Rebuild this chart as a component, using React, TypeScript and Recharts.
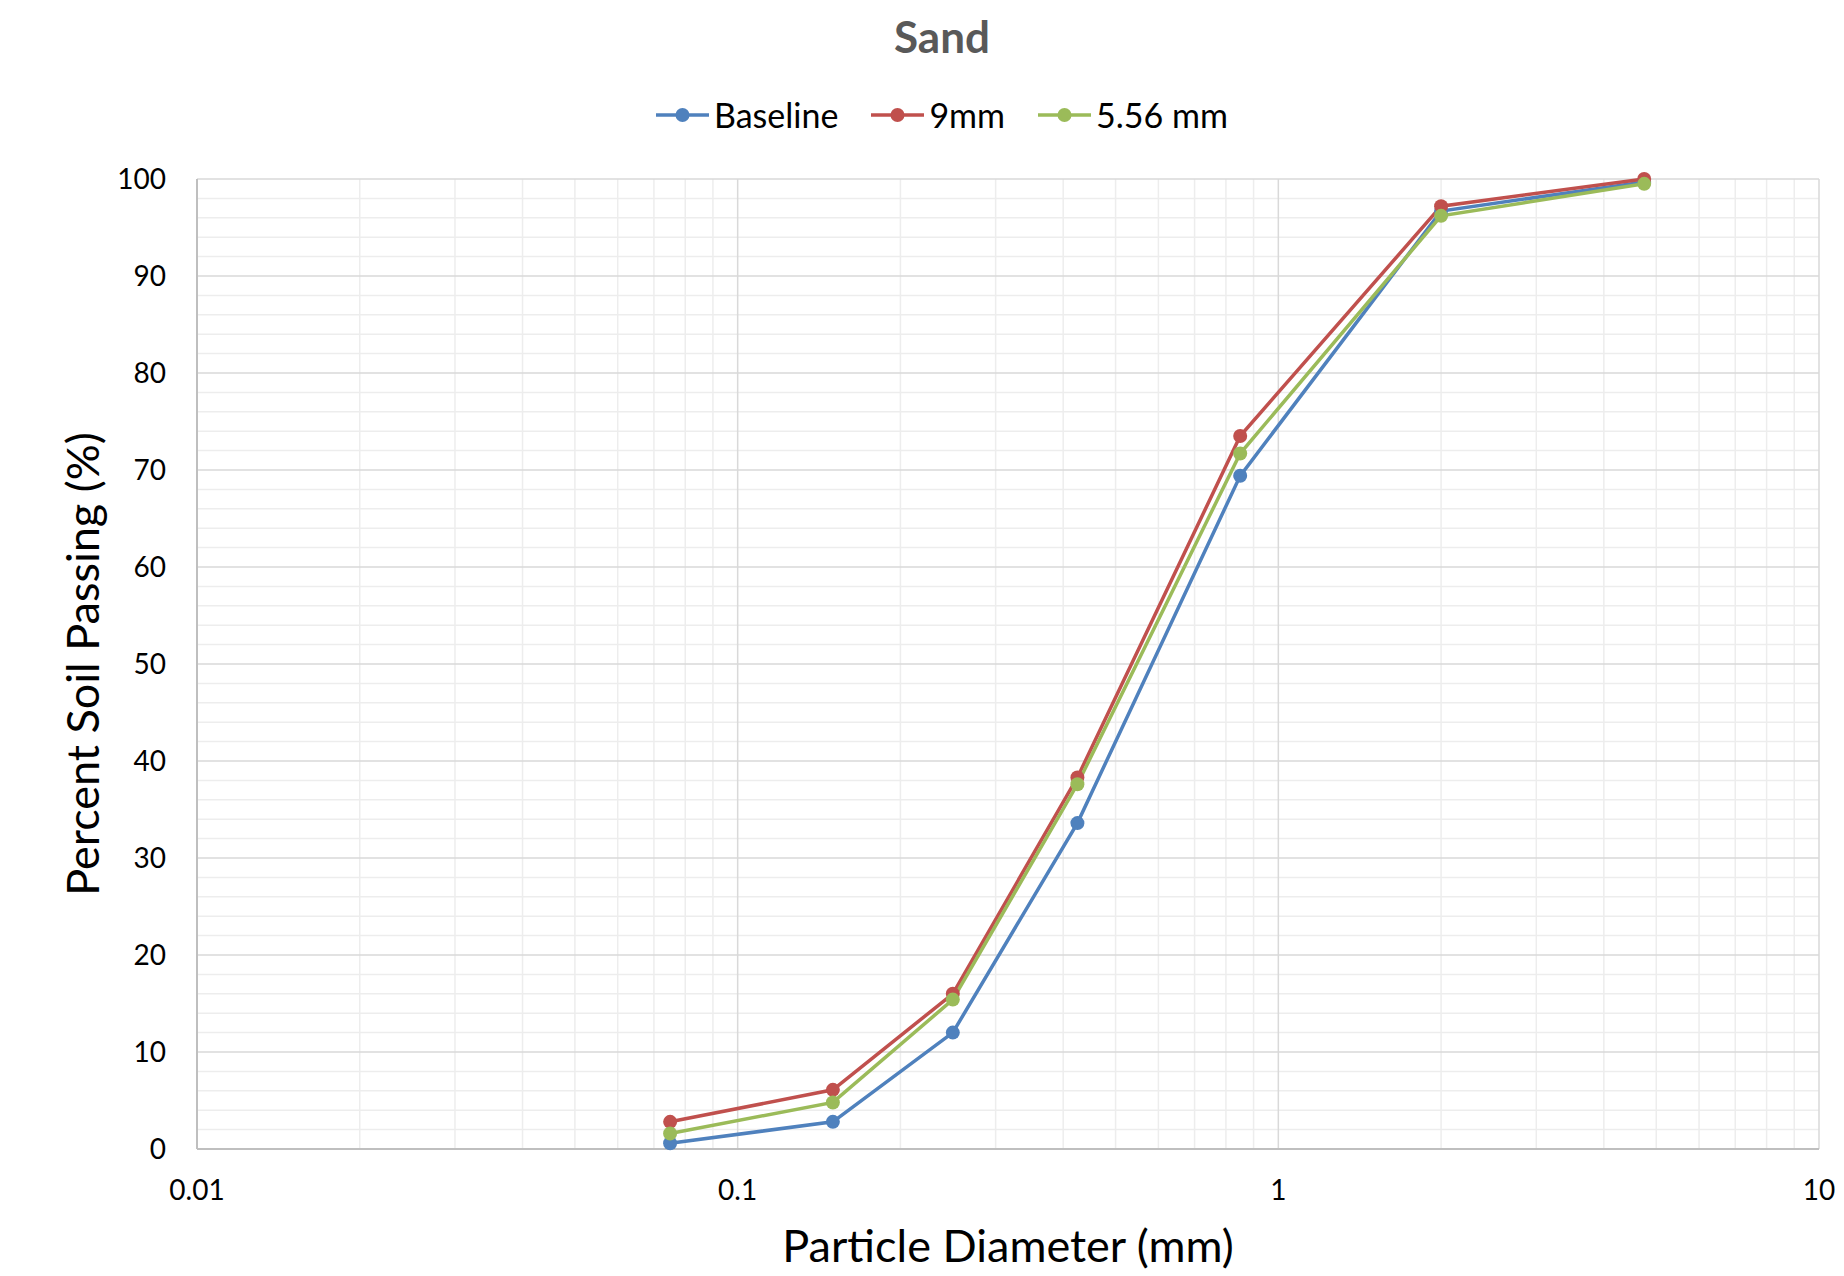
import React from 'react';
import { LineChart, Line, XAxis, YAxis, CartesianGrid, Legend } from 'recharts';

const sieveSizes = [0.075, 0.15, 0.25, 0.425, 0.85, 2.0, 4.75];
const baselineValues = [0.6, 2.8, 12.0, 33.6, 69.4, 96.7, 99.7];
const nineMmValues = [2.8, 6.1, 16.0, 38.3, 73.5, 97.2, 100.0];
const fiveMmValues = [1.6, 4.8, 15.4, 37.6, 71.7, 96.2, 99.5];

const xTicks = [0.01, 0.1, 1, 10];
const yTicks = [0, 10, 20, 30, 40, 50, 60, 70, 80, 90, 100];
const xMinorGrid = [0.02, 0.03, 0.04, 0.05, 0.06, 0.07, 0.08, 0.09, 0.2, 0.3, 0.4, 0.5, 0.6, 0.7, 0.8, 0.9, 2, 3, 4, 5, 6, 7, 8, 9];
const xMajorGrid = [0.1, 1, 10];
const yMinorGrid = [2, 4, 6, 8, 12, 14, 16, 18, 22, 24, 26, 28, 32, 34, 36, 38, 42, 44, 46, 48, 52, 54, 56, 58, 62, 64, 66, 68, 72, 74, 76, 78, 82, 84, 86, 88, 92, 94, 96, 98];
const yMajorGrid = [10, 20, 30, 40, 50, 60, 70, 80, 90, 100];

const seriesNames = ['Baseline', '9mm', '5.56 mm'];
const seriesKeys = ['baseline', 'nine', 'five'];
const seriesColors = ['#4f81bd', '#c0504d', '#9bbb59'];

const data = sieveSizes.map((d, i) => ({
  d,
  baseline: baselineValues[i],
  nine: nineMmValues[i],
  five: fiveMmValues[i],
}));

const FONT = 'Lato, "Open Sans", sans-serif';

const Header = () => (
  <div style={{ position: 'relative', width: 1844, height: 179, fontFamily: FONT }}>
    <div
      style={{
        position: 'absolute',
        top: 14,
        left: 0,
        width: 1884,
        textAlign: 'center',
        fontSize: 44,
        lineHeight: '44px',
        fontWeight: 700,
        color: '#595959',
      }}
    >
      Sand
    </div>
    <div
      style={{
        position: 'absolute',
        top: 97,
        left: 656,
        height: 35,
        display: 'flex',
        alignItems: 'center',
        fontSize: 34,
        lineHeight: '35px',
        color: '#000',
      }}
    >
      {seriesNames.map((name, i) => (
        <div key={name} style={{ display: 'flex', alignItems: 'center', marginRight: 33 }}>
          <svg width={53} height={20}>
            <line x1={0} y1={10} x2={53} y2={10} stroke={seriesColors[i]} strokeWidth={3.5} />
            <circle cx={26.5} cy={10} r={7} fill={seriesColors[i]} />
          </svg>
          <span style={{ marginLeft: 5 }}>{name}</span>
        </div>
      ))}
    </div>
  </div>
);

const YTitle = (props: any) => {
  const vb = props.viewBox || { x: 0, y: 179, width: 197, height: 970 };
  const x = vb.x + 99;
  const y = vb.y + vb.height / 2;
  return (
    <text
      x={x}
      y={y}
      transform={`rotate(-90 ${x} ${y})`}
      textAnchor="middle"
      fontFamily={FONT}
      fontSize={45}
      fill="#000"
    >
      Percent Soil Passing (%)
    </text>
  );
};

const XTitle = (props: any) => {
  const vb = props.viewBox || { x: 197, y: 1149, width: 1622, height: 127 };
  const x = vb.x + vb.width / 2;
  const y = vb.y + 113;
  return (
    <text x={x} y={y} textAnchor="middle" fontFamily={FONT} fontSize={45} fill="#000">
      Particle Diameter (mm)
    </text>
  );
};

export default function App() {
  return (
    <div style={{ position: 'absolute', left: 0, top: 0, width: 1844, height: 1276, background: '#fff' }}>
      <LineChart
        width={1844}
        height={1276}
        data={data}
        margin={{ top: 0, right: 25, left: 0, bottom: 0 }}
      >
        <Legend
          verticalAlign="top"
          align="left"
          wrapperStyle={{ left: 0, top: 0, width: 1844 }}
          content={() => <Header />}
        />
        <CartesianGrid
          stroke="#ededed"
          strokeWidth={1.5}
          horizontalValues={yMinorGrid}
          verticalValues={xMinorGrid}
        />
        <CartesianGrid
          stroke="#d9d9d9"
          strokeWidth={1.5}
          horizontalValues={yMajorGrid}
          verticalValues={xMajorGrid}
        />
        <XAxis
          dataKey="d"
          type="number"
          scale="log"
          domain={[0.01, 10]}
          ticks={xTicks}
          allowDataOverflow
          height={127}
          tickLine={false}
          tickSize={0}
          tickMargin={31}
          axisLine={{ stroke: '#bfbfbf', strokeWidth: 2 }}
          tick={{ fontFamily: FONT, fontSize: 28, fill: '#000' }}
          tickFormatter={(v: number) => String(v)}
          interval={0}
          label={<XTitle />}
        />
        <YAxis
          type="number"
          domain={[0, 100]}
          ticks={yTicks}
          width={197}
          tickLine={false}
          tickSize={0}
          tickMargin={31}
          axisLine={{ stroke: '#bfbfbf', strokeWidth: 2 }}
          tick={{ fontFamily: FONT, fontSize: 28, fill: '#000' }}
          interval={0}
          label={<YTitle />}
        />
        {seriesKeys.map((k, i) => (
          <Line
            key={k}
            dataKey={k}
            name={seriesNames[i]}
            stroke={seriesColors[i]}
            strokeWidth={3.5}
            dot={{ r: 7, fill: seriesColors[i], stroke: seriesColors[i], strokeWidth: 0 }}
            activeDot={false}
            isAnimationActive={false}
          />
        ))}
      </LineChart>
    </div>
  );
}
